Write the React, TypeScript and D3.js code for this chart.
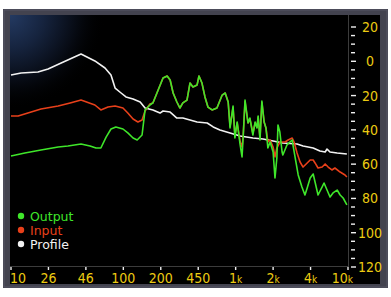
import React from "react";
import * as d3 from "d3";

// X axis tick labels (positions are equally spaced ticks on the analyser)
const xTickLabels = ["10", "26", "46", "100", "200", "450", "1k", "2k", "4k", "10k"];
// Y axis ticks in dB (shown without sign)
const yLabelTicks = [20, 0, -20, -40, -60, -80, -100, -120];

// Series: [position along tick axis (0..9), level dB]
const profile: [number, number][] = [
  [0, -8.0], [0.27, -6.8], [0.72, -6.25], [0.99, -4.5], [1.34, -1.0], [1.87, 4.25],
  [2.24, 0.2], [2.51, -3.9], [2.67, -8.0], [2.78, -15.6], [2.94, -18.5], [3.07, -20.8],
  [3.26, -22], [3.45, -23.75], [3.58, -27.25], [3.79, -28.4], [3.98, -30.2], [4.06, -29],
  [4.25, -29.6], [4.43, -33.1], [4.59, -33.1], [4.78, -34.25], [4.97, -35.4], [5.24, -36],
  [5.4, -38.3], [5.58, -40.1], [5.85, -41.8], [6.12, -43.6], [6.46, -44.75], [6.73, -45.3],
  [7.0, -46.5], [7.26, -47.7], [7.64, -48.25], [7.8, -49.4], [8.07, -50.6], [8.25, -52.3],
  [8.39, -52.9], [8.44, -51.2], [8.52, -52.9], [8.71, -53.5], [8.97, -54.1],
];

const input: [number, number][] = [
  [0, -31.9], [0.19, -31.9], [0.8, -27.8], [1.26, -26.1], [1.58, -24.3], [1.87, -22.6],
  [2.24, -25.5], [2.4, -28.4], [2.59, -26.7], [2.78, -26.1], [2.99, -27.25], [3.12, -30.2],
  [3.26, -33.7], [3.39, -35.4], [3.5, -34.25], [3.58, -29], [3.71, -24.9],
  [3.79, -24.3], [3.93, -16.75], [4.06, -9.75], [4.17, -8.6], [4.25, -10.9], [4.33, -18.5],
  [4.43, -23.75], [4.51, -27.25], [4.59, -24.3], [4.7, -22.6], [4.78, -12.7], [4.86, -15],
  [4.97, -13.8], [5.02, -8.6], [5.1, -12.7], [5.18, -20.8], [5.26, -26.7], [5.37, -28.4],
  [5.5, -27.25], [5.64, -19.7], [5.72, -18.5], [5.8, -23.75], [5.85, -38], [5.93, -27],
  [5.98, -43], [6.04, -36], [6.12, -47], [6.17, -50], [6.2, -44], [6.25, -23.5],
  [6.33, -36], [6.38, -33.5], [6.46, -42], [6.52, -36], [6.57, -38.5], [6.6, -32.5],
  [6.65, -44.5], [6.7, -24], [6.76, -35.4], [6.81, -39], [6.86, -47],
  [6.92, -45.9], [7.0, -50], [7.05, -55.8], [7.1, -50.6], [7.18, -47.1], [7.32, -47.1],
  [7.4, -45.9], [7.51, -44.75], [7.56, -47.1], [7.64, -53.5], [7.72, -58.75], [7.8, -61.7],
  [7.91, -59.3], [7.99, -57.6], [8.07, -57.6], [8.12, -59.3], [8.2, -62.25], [8.31, -61.7],
  [8.39, -59.9], [8.47, -61.7], [8.57, -63.4], [8.65, -62.25], [8.79, -64.6], [8.92, -66.3],
  [8.97, -67.5],
];

const output: [number, number][] = [
  [0, -55.25], [0.37, -53.5], [0.8, -51.75], [1.26, -50], [1.52, -49.4], [1.87, -48.25],
  [2.11, -49.4], [2.27, -50.6], [2.4, -50.6], [2.54, -44.2], [2.67, -39.5], [2.8, -38.3],
  [2.99, -39.5], [3.12, -41.8], [3.26, -44.75], [3.37, -45.9], [3.5, -43], [3.58, -28.4],
  [3.71, -25.5], [3.79, -24.3], [3.93, -16.75], [4.06, -9.75], [4.17, -8.6], [4.25, -10.9],
  [4.33, -18.5], [4.43, -23.75], [4.51, -27.25], [4.59, -24.3], [4.7, -22.6], [4.78, -12.7],
  [4.86, -15], [4.97, -13.8], [5.02, -8.6], [5.1, -12.7], [5.18, -20.8], [5.26, -26.7],
  [5.37, -28.4], [5.5, -27.25], [5.64, -19.7], [5.72, -18.5], [5.8, -23.75], [5.85, -38.9],
  [5.93, -26.1], [5.98, -44.75], [6.04, -35.4], [6.12, -48.8], [6.17, -55.8], [6.2, -44.2],
  [6.25, -22.6], [6.33, -36], [6.38, -33.1], [6.46, -43], [6.52, -35.4], [6.57, -38.9],
  [6.6, -31.9], [6.65, -45.9], [6.7, -23.2], [6.76, -35.4], [6.81, -38.9], [6.86, -50.6],
  [6.92, -47.1], [7.0, -52.9], [7.05, -68.1], [7.1, -56.4], [7.13, -37.2], [7.18, -41.25],
  [7.24, -52.9], [7.26, -54.7], [7.37, -48.8], [7.45, -47.1], [7.51, -45.9], [7.53, -48.8],
  [7.59, -56.4], [7.67, -66.3], [7.77, -73.3], [7.85, -78], [7.91, -73.9], [7.99, -68.1],
  [8.07, -65.75], [8.12, -70.4], [8.2, -78], [8.31, -73.3], [8.36, -71], [8.44, -75.1],
  [8.52, -79.2], [8.6, -76.8], [8.71, -75.1], [8.79, -78], [8.87, -79.75], [8.97, -83.8],
];

const legendItems = [
  { name: "Output", color: "#3fe62a" },
  { name: "Input", color: "#e8401a" },
  { name: "Profile", color: "#f2f2f2" },
];

const W = 391;
const H = 297;

export default function App() {
  const x = d3.scaleLinear().domain([0, 9]).range([11, 348]);
  const y = d3.scaleLinear().domain([20, -120]).range([27, 267]);
  const line = d3
    .line<[number, number]>()
    .x((d) => x(d[0]))
    .y((d) => y(d[1]));

  const minorTicks = d3.range(20, -121, -5);
  const axisFont = "'Liberation Sans Narrow', 'DejaVu Sans Condensed', sans-serif";
  const yellow = "#eccb12";

  return (
    <svg
      width={W}
      height={H}
      style={{ position: "absolute", left: 0, top: 0, background: "#fff" }}
    >
      <defs>
        <radialGradient id="glow" gradientUnits="userSpaceOnUse" cx={10} cy={15} r={95}>
          <stop offset="0%" stopColor="#243a62" />
          <stop offset="35%" stopColor="#16243f" />
          <stop offset="70%" stopColor="#070b14" />
          <stop offset="100%" stopColor="#000" stopOpacity={0} />
        </radialGradient>
        <clipPath id="plotClip">
          <rect x={10} y={15} width={338} height={252} />
        </clipPath>
      </defs>
      {/* frame */}
      <rect x={3} y={9} width={385} height={279} fill="#43434f" />
      <rect x={4} y={10} width={383} height={277} fill="none" stroke="#575766" strokeWidth={1} />
      <rect x={10} y={15} width={370} height={269} fill="#000" />
      <rect x={10} y={15} width={338} height={252} fill="url(#glow)" />

      {/* axis lines */}
      <line x1={348.5} x2={348.5} y1={15} y2={267} stroke="#3c3c3c" strokeWidth={1} />
      <line x1={10} x2={348} y1={266.5} y2={266.5} stroke="#3c3c3c" strokeWidth={1} />

      {/* y ticks */}
      {minorTicks.map((t) => (
        <line
          key={t}
          x1={351}
          x2={yLabelTicks.includes(t) ? 356 : 355}
          y1={y(t)}
          y2={y(t)}
          stroke="#f0f0f0"
          strokeWidth={1.4}
        />
      ))}
      {yLabelTicks.map((t) => (
        <text
          key={t}
          x={370}
          y={y(t)}
          dy="0.36em"
          textAnchor="middle"
          fill={yellow}
          fontFamily={axisFont}
          fontSize={14}
        >
          {Math.abs(t)}
        </text>
      ))}

      {/* x ticks and labels */}
      {xTickLabels.map((lab, i) => {
        const px = x(i);
        const isK = lab.endsWith("k");
        const num = isK ? lab.slice(0, -1) : lab;
        const anchor = i === 0 ? "start" : i === xTickLabels.length - 1 ? "end" : "middle";
        const tx = i === 0 ? px - 1 : i === xTickLabels.length - 1 ? px + 5 : px;
        return (
          <g key={lab}>
            <line x1={px} x2={px} y1={267} y2={270} stroke="#f0f0f0" strokeWidth={1.4} />
            <text
              x={tx}
              y={283}
              textAnchor={anchor}
              fill={yellow}
              fontFamily={axisFont}
              fontSize={14}
            >
              {num}
              {isK && <tspan fontSize={10}>k</tspan>}
            </text>
          </g>
        );
      })}

      {/* curves */}
      <g clipPath="url(#plotClip)" fill="none" strokeLinejoin="round" strokeWidth={1.6}>
        <path d={line(profile) || ""} stroke="#f2f2f2" />
        <path d={line(input) || ""} stroke="#e8401a" />
        <path d={line(output) || ""} stroke="#3fe62a" />
      </g>

      {/* legend */}
      {legendItems.map((it, i) => (
        <g key={it.name} transform={`translate(21, ${216 + i * 14})`}>
          <circle r={3.2} fill={it.color} />
          <text
            x={9}
            y={0}
            dy="0.36em"
            fill={it.color}
            fontFamily="'DejaVu Sans', sans-serif"
            fontSize={12.5}
          >
            {it.name}
          </text>
        </g>
      ))}
    </svg>
  );
}
